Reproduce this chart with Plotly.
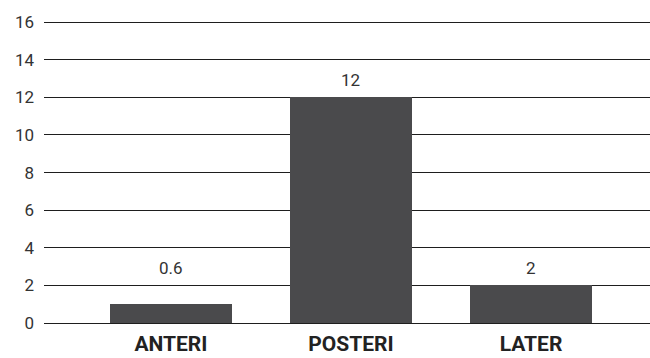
import plotly.graph_objects as go

categories = ["ANTERI", "POSTERI", "LATER"]
values = [0.6, 12, 2]
y_ticks = [0, 2, 4, 6, 8, 10, 12, 14, 16]

# style: minimum visible bar height and label floor (as in reference rendering)
MIN_BAR = 1.02
LABEL_FLOOR = 2

xs = list(range(len(categories)))
bar_heights = [max(v, MIN_BAR) for v in values]

fig = go.Figure()
fig.add_trace(go.Bar(
    x=xs, y=bar_heights, width=0.678,
    marker=dict(color="#4a4a4c", line=dict(width=0)),
    hoverinfo="skip",
))

for x, v in zip(xs, values):
    fig.add_annotation(
        x=x, y=max(v, LABEL_FLOOR), text=str(v), showarrow=False,
        yanchor="bottom", yshift=5,
        font=dict(family="Roboto", size=17, color="#333333"),
    )

fig.update_layout(
    width=650, height=358,
    margin=dict(l=44, r=0, t=21, b=35),
    paper_bgcolor="white", plot_bgcolor="white",
    showlegend=False,
    bargap=0,
    font=dict(family="Roboto", color="#333333"),
)
fig.update_xaxes(
    range=[-0.705, 2.661], tickmode="array", tickvals=xs,
    ticktext=[f"<b>{c}</b>" for c in categories],
    tickfont=dict(family="Roboto", size=21, color="#222222"),
    showgrid=False, zeroline=False, showline=False, ticks="",
    ticklabelstandoff=6, fixedrange=True, automargin=False,
)
fig.update_yaxes(
    range=[0, 16.06], tickmode="array", tickvals=y_ticks,
    tickfont=dict(family="Roboto", size=17, color="#333333"),
    showgrid=True, gridcolor="#1e1e1e", gridwidth=1.3,
    zeroline=True, zerolinecolor="#1e1e1e", zerolinewidth=1.3,
    showline=False, ticks="", ticklabelstandoff=9, fixedrange=True,
    automargin=False,
)

fig.write_html("out.html")
